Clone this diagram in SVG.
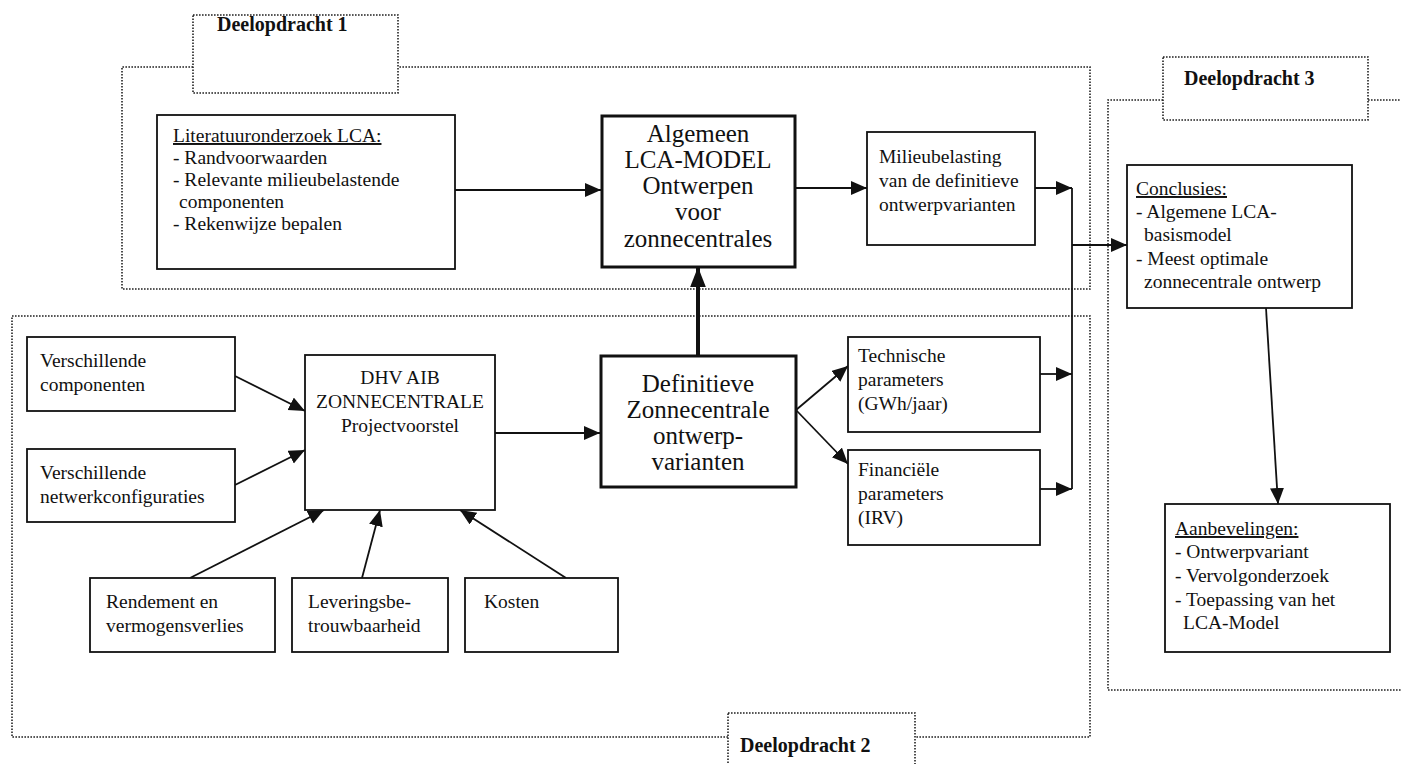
<svg xmlns="http://www.w3.org/2000/svg" width="1401" height="764" viewBox="0 0 1401 764">
<style>
.reg{fill:none;stroke:#222;stroke-width:1.6;stroke-dasharray:1.6 1.4}
.lbl{fill:#fff;stroke:#222;stroke-width:1.6;stroke-dasharray:1.6 1.4}
.box{fill:#fff;stroke:#111;stroke-width:1.8}
.tbox{fill:#fff;stroke:#111;stroke-width:3}
.t{font-family:"Liberation Serif",serif;font-size:19.5px;fill:#111}
.tb{font-family:"Liberation Serif",serif;font-size:25px;fill:#111}
.h{font-family:"Liberation Serif",serif;font-size:20px;font-weight:bold;fill:#111}
.c{stroke:#111;stroke-width:1.8;fill:none}
.ct{stroke:#111;stroke-width:4;fill:none}
</style>
<defs>
<marker id="ah" markerUnits="userSpaceOnUse" markerWidth="18" markerHeight="16" refX="16" refY="7" orient="auto"><path d="M0,0 L16,7 L0,14 Z" fill="#111"/></marker>
<marker id="ahb" markerUnits="userSpaceOnUse" markerWidth="20" markerHeight="22" refX="28" refY="11" orient="auto" viewBox="0 0 28 22"><path d="M0,0 L28,11 L0,22 Z" fill="#111"/></marker>
</defs>

<g id="regions">
<path class="reg" d="M193,67 H122 V289 H1090 V67 H398"/>
<path class="reg" d="M728,737 H12 V316 H1090 V737 H915"/>
<path class="reg" d="M1163,100 H1108 V690 H1401 M1368,100 H1401"/>
</g>
<g id="label1"><rect class="lbl" x="193" y="15" width="205" height="78"/><text class="h" x="217" y="31">Deelopdracht  1</text></g>
<g id="label2"><rect class="lbl" x="728" y="713" width="187" height="60"/><text class="h" x="740" y="752">Deelopdracht 2</text></g>
<g id="label3"><rect class="lbl" x="1163" y="57" width="205" height="63"/><text class="h" x="1184" y="85">Deelopdracht 3</text></g>

<g id="connectors">
<line class="c" x1="455" y1="190" x2="601" y2="190" marker-end="url(#ah)"/>
<line class="c" x1="796" y1="188" x2="867" y2="188" marker-end="url(#ah)"/>
<line class="c" x1="1035" y1="188" x2="1072" y2="188" marker-end="url(#ah)"/>
<line class="c" x1="1072" y1="188" x2="1072" y2="489"/>
<line class="c" x1="1040" y1="374" x2="1072" y2="374" marker-end="url(#ah)"/>
<line class="c" x1="1040" y1="489" x2="1072" y2="489" marker-end="url(#ah)"/>
<line class="c" x1="1072" y1="245" x2="1127" y2="245" marker-end="url(#ah)"/>
<line class="c" x1="1266" y1="308" x2="1278" y2="504" marker-end="url(#ah)"/>
<line class="ct" x1="698" y1="355" x2="698" y2="267" marker-end="url(#ahb)"/>
<line class="c" x1="495" y1="433" x2="600" y2="433" marker-end="url(#ah)"/>
<line class="c" x1="796" y1="410" x2="848" y2="366" marker-end="url(#ah)"/>
<line class="c" x1="796" y1="410" x2="848" y2="464" marker-end="url(#ah)"/>
<line class="c" x1="235" y1="376" x2="305" y2="411" marker-end="url(#ah)"/>
<line class="c" x1="235" y1="485" x2="305" y2="450" marker-end="url(#ah)"/>
<line class="c" x1="190" y1="578" x2="324" y2="510" marker-end="url(#ah)"/>
<line class="c" x1="362" y1="578" x2="380" y2="510" marker-end="url(#ah)"/>
<line class="c" x1="566" y1="578" x2="460" y2="510" marker-end="url(#ah)"/>
</g>

<g id="literatuur"><rect class="box" x="157" y="115" width="298" height="154"/>
<text class="t" x="173" y="142" text-decoration="underline">Literatuuronderzoek LCA:</text>
<text class="t" x="173" y="164">- Randvoorwaarden</text>
<text class="t" x="173" y="186">- Relevante milieubelastende</text>
<text class="t" x="179" y="208">componenten</text>
<text class="t" x="173" y="230">- Rekenwijze bepalen</text></g>

<g id="algemeen"><rect class="tbox" x="602" y="116" width="193" height="151"/>
<text class="tb" text-anchor="middle" x="698" y="142">Algemeen</text>
<text class="tb" text-anchor="middle" x="698" y="168">LCA-MODEL</text>
<text class="tb" text-anchor="middle" x="698" y="194">Ontwerpen</text>
<text class="tb" text-anchor="middle" x="698" y="220">voor</text>
<text class="tb" text-anchor="middle" x="698" y="247">zonnecentrales</text></g>

<g id="milieu"><rect class="box" x="867" y="132" width="168" height="113"/>
<text class="t" x="879" y="163">Milieubelasting</text>
<text class="t" x="879" y="187">van de definitieve</text>
<text class="t" x="879" y="211">ontwerpvarianten</text></g>

<g id="vcomp"><rect class="box" x="27" y="337" width="208" height="74"/>
<text class="t" x="40" y="367">Verschillende</text>
<text class="t" x="40" y="391">componenten</text></g>

<g id="vnet"><rect class="box" x="27" y="449" width="208" height="73"/>
<text class="t" x="40" y="479">Verschillende</text>
<text class="t" x="40" y="503">netwerkconfiguraties</text></g>

<g id="dhv"><rect class="box" x="305" y="355" width="190" height="155"/>
<text class="t" text-anchor="middle" x="400" y="384">DHV AIB</text>
<text class="t" text-anchor="middle" x="400" y="408">ZONNECENTRALE</text>
<text class="t" text-anchor="middle" x="400" y="432">Projectvoorstel</text></g>

<g id="definitieve"><rect class="tbox" x="601" y="356" width="195" height="131"/>
<text class="tb" text-anchor="middle" x="698" y="392">Definitieve</text>
<text class="tb" text-anchor="middle" x="698" y="418">Zonnecentrale</text>
<text class="tb" text-anchor="middle" x="698" y="444">ontwerp-</text>
<text class="tb" text-anchor="middle" x="698" y="470">varianten</text></g>

<g id="technische"><rect class="box" x="848" y="337" width="192" height="95"/>
<text class="t" x="858" y="362">Technische</text>
<text class="t" x="858" y="386">parameters</text>
<text class="t" x="858" y="410">(GWh/jaar)</text></g>

<g id="financiele"><rect class="box" x="848" y="450" width="192" height="95"/>
<text class="t" x="858" y="476">Financiële</text>
<text class="t" x="858" y="500">parameters</text>
<text class="t" x="858" y="524">(IRV)</text></g>

<g id="rendement"><rect class="box" x="90" y="578" width="185" height="74"/>
<text class="t" x="106" y="608">Rendement en</text>
<text class="t" x="106" y="632">vermogensverlies</text></g>

<g id="levering"><rect class="box" x="292" y="578" width="156" height="74"/>
<text class="t" x="308" y="608">Leveringsbe-</text>
<text class="t" x="308" y="632">trouwbaarheid</text></g>

<g id="kosten"><rect class="box" x="465" y="578" width="153" height="74"/>
<text class="t" x="484" y="608">Kosten</text></g>

<g id="conclusies"><rect class="box" x="1127" y="165" width="225" height="143"/>
<text class="t" x="1136" y="195" text-decoration="underline">Conclusies:</text>
<text class="t" x="1136" y="218">- Algemene LCA-</text>
<text class="t" x="1144" y="241">basismodel</text>
<text class="t" x="1136" y="265">- Meest optimale</text>
<text class="t" x="1144" y="288">zonnecentrale ontwerp</text></g>

<g id="aanbevelingen"><rect class="box" x="1165" y="504" width="225" height="148"/>
<text class="t" x="1175" y="535" text-decoration="underline">Aanbevelingen:</text>
<text class="t" x="1175" y="558">- Ontwerpvariant</text>
<text class="t" x="1175" y="582">- Vervolgonderzoek</text>
<text class="t" x="1175" y="606">- Toepassing van het</text>
<text class="t" x="1183" y="629">LCA-Model</text></g>
</svg>
